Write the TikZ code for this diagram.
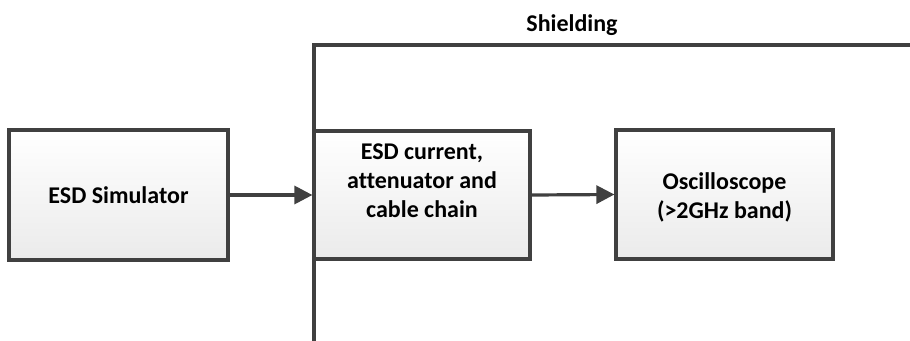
\documentclass[tikz,border=0pt]{standalone}
\usepackage{fontspec}
\setmainfont{Carlito}[Ligatures=NoCommon]
\usetikzlibrary{arrows.meta}
\definecolor{edge}{HTML}{404040}
\tikzset{
  x=1pt, y=-1pt,
  blockbox/.style={draw=edge, line width=3.2pt, top color=white, bottom color=black!8, inner sep=0pt},
  btext/.style={font=\bfseries\fontsize{24}{29}\selectfont, align=center, text=black},
  conn/.style={draw=edge, line width=3.2pt, -{Triangle[length=18pt,width=18pt]}},
  shield/.style={draw=edge, line width=3.4pt, line cap=rect}
}
\begin{document}
\begin{tikzpicture}
\useasboundingbox (0,0) rectangle (910,340);
\node[blockbox, minimum width=219pt, minimum height=130pt] (sim) at (118.5,195) {};
\node[btext] (simt) at (118.5,195) {ESD Simulator};
\node[blockbox, minimum width=216pt, minimum height=128pt] (chain) at (422,195) {};
\node[btext] (chaint) at (422,181) {ESD current,\\attenuator and\\cable chain};
\node[blockbox, minimum width=217pt, minimum height=129pt] (osc) at (724.5,194.5) {};
\node[btext] (osct) at (724.5,197) {Oscilloscope\\(>2GHz band)};
\coordinate (sb) at (314,342);
\coordinate (sc) at (314,45);
\coordinate (se) at (912,45);
\draw[shield] (sb) -- (sc) -- (se);
\node[btext] (shieldt) at (572,25) {Shielding};
\draw[conn] (sim.east) -- (chain.west);
\draw[conn] (chain.east) -- (osc.west);
\end{tikzpicture}
\end{document}
